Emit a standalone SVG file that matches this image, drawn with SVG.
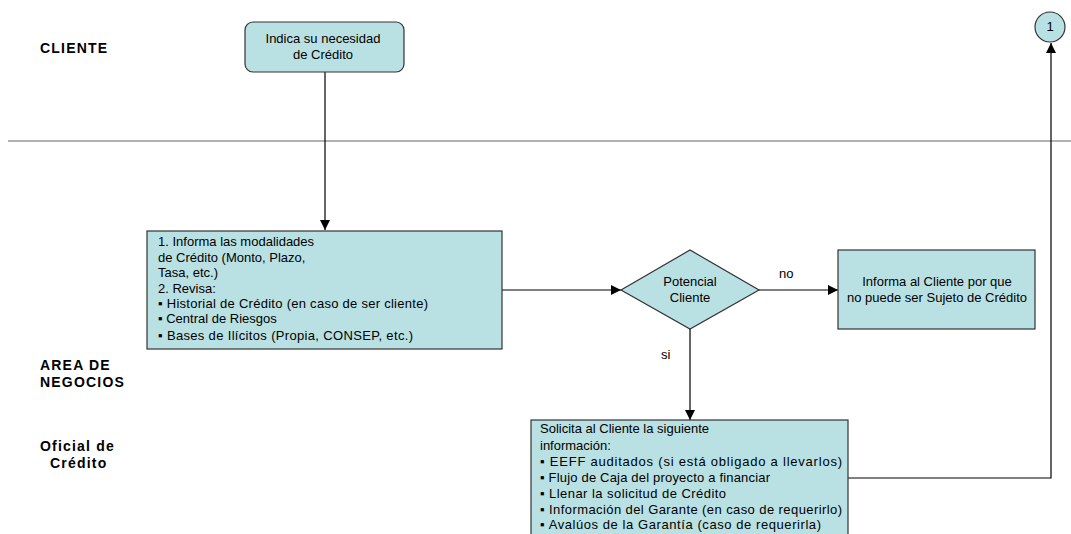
<svg xmlns="http://www.w3.org/2000/svg" width="1071" height="534" viewBox="0 0 1071 534">
  <style>
    .lane { font-family: "Liberation Sans", Arial, sans-serif; font-size: 14px; font-weight: bold; fill: #000; letter-spacing: 1.2px; }
    .txt { font-family: "Liberation Sans", Arial, sans-serif; font-size: 13px; fill: #000; }
    .mid { text-anchor: middle; }
    .box { fill: #b9e0e3; stroke: #333; stroke-width: 1.2; }
    .conn { fill: none; stroke: #000; stroke-width: 1.2; }
  </style>
  <defs>
    <marker id="arrow" viewBox="0 0 10 10" refX="10" refY="5" markerWidth="10" markerHeight="10" markerUnits="userSpaceOnUse" orient="auto">
      <path d="M0,0 L10,5 L0,10 z" fill="#000"/>
    </marker>
  </defs>

  <rect width="1071" height="534" fill="#fff"/>

  <!-- swimlane divider and lane titles -->
  <line x1="8" y1="141" x2="1071" y2="141" stroke="#999" stroke-width="1.5"/>
  <g id="lane-labels">
    <text class="lane" x="40" y="53">CLIENTE</text>
    <text class="lane" x="40" y="370">AREA DE</text>
    <text class="lane" x="40" y="387">NEGOCIOS</text>
    <text class="lane" x="40" y="451" letter-spacing="0.6">Oficial de</text>
    <text class="lane" x="50" y="468" letter-spacing="0.6">Crédito</text>
  </g>

  <!-- connectors -->
  <g id="connectors">
    <path class="conn" d="M325,72 L325,230" marker-end="url(#arrow)"/>
    <path class="conn" d="M502,290 L621,290" marker-end="url(#arrow)"/>
    <path class="conn" d="M759,290 L838,290" marker-end="url(#arrow)"/>
    <path class="conn" d="M690,329 L690,420" marker-end="url(#arrow)"/>
    <path class="conn" d="M848,478 L1051,478 L1051,43" marker-end="url(#arrow)"/>
    <text class="txt" x="779" y="278">no</text>
    <text class="txt" x="661" y="359">si</text>
  </g>

  <g id="node-necesidad">
    <rect class="box" x="245" y="22" width="159" height="50" rx="8" ry="8" stroke="#555" stroke-width="1.5"/>
    <text class="txt mid" x="323" y="43">Indica su necesidad</text>
    <text class="txt mid" x="323" y="59">de Crédito</text>
  </g>

  <g id="node-informa">
    <rect class="box" x="147" y="231" width="355" height="118"/>
    <text class="txt" x="158" y="246">1. Informa las modalidades</text>
    <text class="txt" x="158" y="262">de Crédito (Monto, Plazo,</text>
    <text class="txt" x="158" y="277">Tasa, etc.)</text>
    <text class="txt" x="158" y="293">2. Revisa:</text>
    <text class="txt" x="158" y="308" textLength="270" lengthAdjust="spacing">▪ Historial de Crédito (en caso de ser cliente)</text>
    <text class="txt" x="158" y="323">▪ Central de Riesgos</text>
    <text class="txt" x="158" y="340" textLength="255" lengthAdjust="spacing">▪  Bases de Ilícitos (Propia, CONSEP, etc.)</text>
  </g>

  <g id="node-potencial">
    <polygon class="box" points="621,290 690,250 759,290 690,329"/>
    <text class="txt mid" x="690" y="286">Potencial</text>
    <text class="txt mid" x="690" y="302">Cliente</text>
  </g>

  <g id="node-no-sujeto">
    <rect class="box" x="838" y="250" width="197" height="79"/>
    <text class="txt mid" x="937" y="286">Informa al Cliente por que</text>
    <text class="txt mid" x="937" y="302">no puede ser Sujeto de Crédito</text>
  </g>

  <g id="node-solicita">
    <rect class="box" x="531" y="420" width="317" height="130"/>
    <text class="txt" x="540" y="433">Solicita al Cliente la siguiente</text>
    <text class="txt" x="540" y="450">información:</text>
    <text class="txt" x="540" y="466" textLength="302" lengthAdjust="spacing">▪ EEFF auditados (si está obligado a llevarlos)</text>
    <text class="txt" x="540" y="482" textLength="230" lengthAdjust="spacing">▪ Flujo de Caja del proyecto a financiar</text>
    <text class="txt" x="540" y="498" textLength="186" lengthAdjust="spacing">▪ Llenar la solicitud de Crédito</text>
    <text class="txt" x="540" y="514" textLength="302" lengthAdjust="spacing">▪ Información del Garante (en caso de requerirlo)</text>
    <text class="txt" x="540" y="529" textLength="281" lengthAdjust="spacing">▪ Avalúos de la Garantía (caso de requerirla)</text>
  </g>

  <g id="node-conector-1">
    <circle class="box" cx="1050" cy="27" r="15" stroke="#555" stroke-width="1.5"/>
    <text class="txt mid" x="1050" y="31" font-size="11">1</text>
  </g>
</svg>
